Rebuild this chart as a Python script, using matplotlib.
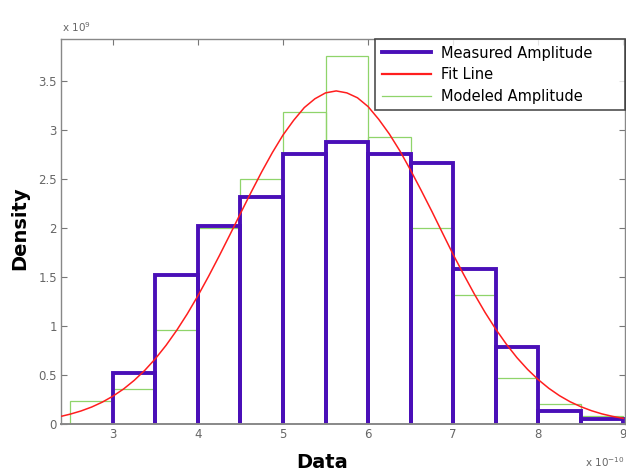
import matplotlib
matplotlib.use("Agg")
import matplotlib.pyplot as plt

# Data (x in units of 1e-10, density in units of 1e9)
bin_edges_measured = [3.0, 3.5, 4.0, 4.5, 5.0, 5.5, 6.0, 6.5, 7.0, 7.5, 8.0, 8.5]
measured = [0.52, 1.52, 2.02, 2.32, 2.76, 2.88, 2.76, 2.66, 1.58, 0.79, 0.13, 0.05]

bin_edges_model = [2.5, 3.0, 3.5, 4.0, 4.5, 5.0, 5.5, 6.0, 6.5, 7.0, 7.5, 8.0, 8.5]
modeled = [0.235, 0.36, 0.96, 2.00, 2.50, 3.18, 3.76, 2.93, 2.00, 1.32, 0.47, 0.20, 0.08]
bin_width = 0.5

fit_x = [2.4, 2.5, 2.625, 2.75, 2.875, 3.0, 3.125, 3.25, 3.375, 3.5, 3.625, 3.75,
         3.875, 4.0, 4.125, 4.25, 4.375, 4.5, 4.625, 4.75, 4.875, 5.0, 5.125,
         5.25, 5.375, 5.5, 5.625, 5.75, 5.875, 6.0, 6.125, 6.25, 6.375, 6.5,
         6.625, 6.75, 6.875, 7.0, 7.125, 7.25, 7.375, 7.5, 7.625, 7.75, 7.875,
         8.0, 8.125, 8.25, 8.375, 8.5, 8.625, 8.75, 8.875, 9.0]
fit_y = [0.080, 0.101, 0.133, 0.173, 0.223, 0.284, 0.357, 0.445, 0.548, 0.667,
         0.803, 0.956, 1.125, 1.31, 1.508, 1.716, 1.931, 2.15, 2.366, 2.575,
         2.771, 2.95, 3.10, 3.23, 3.32, 3.38, 3.40, 3.38, 3.33, 3.24, 3.11,
         2.96, 2.786, 2.59, 2.383, 2.17, 1.949, 1.73, 1.524, 1.325, 1.139,
         0.969, 0.815, 0.677, 0.557, 0.453, 0.364, 0.289, 0.227, 0.177, 0.136,
         0.103, 0.0775, 0.058]

xticks = [3, 4, 5, 6, 7, 8, 9]
yticks = [0, 0.5, 1, 1.5, 2, 2.5, 3, 3.5]
ytick_labels = ["0", "0.5", "1", "1.5", "2", "2.5", "3", "3.5"]

purple = "#4a0fb8"
green = "#8fd46a"
red = "#ff1e1e"

fig = plt.figure(figsize=(6.26, 4.73), dpi=100)
ax = fig.add_axes([61 / 626, (473 - 424) / 473, (625 - 61) / 626, (424 - 39) / 473])


def draw_bars(edges, heights, color, lw, z):
    handle = None
    for left, h in zip(edges, heights):
        right = left + bin_width
        ln, = ax.plot([left, left, right, right], [0, h, h, 0], color=color,
                      linewidth=lw, solid_joinstyle="miter", solid_capstyle="butt",
                      zorder=z)
        handle = ln
    return handle


draw_bars(bin_edges_model, modeled, green, 0.9, 2)
draw_bars(bin_edges_measured, measured, purple, 2.8, 2.2)
ax.plot(fit_x, fit_y, color=red, linewidth=1.1, zorder=4)

# legend proxies
h1, = ax.plot([], [], color=purple, linewidth=2.8)
h2, = ax.plot([], [], color=red, linewidth=1.6)
h3, = ax.plot([], [], color=green, linewidth=0.9)
leg = ax.legend([h1, h2, h3], ["Measured Amplitude", "Fit Line", "Modeled Amplitude"],
                loc="upper left", bbox_to_anchor=(0.557, 0.5, 0.443, 0.5), mode="expand",
                borderaxespad=0, fancybox=False, frameon=True, fontsize=10.5,
                handlelength=3.35, labelspacing=0.45, borderpad=0.45, handletextpad=0.7)
leg.get_frame().set_edgecolor("#222222")
leg.get_frame().set_linewidth(1.2)
leg.set_zorder(10)

ax.set_xlim(2.39, 9.02)
ax.set_ylim(0, 3.93)
ax.set_xticks(xticks)
ax.set_xticklabels([str(t) for t in xticks])
ax.set_yticks(yticks)
ax.set_yticklabels(ytick_labels)
ax.tick_params(direction="in", top=True, right=True, length=4, width=0.8,
               colors="#777777", labelsize=8.5, labelcolor="#666666", pad=3)
for s in ax.spines.values():
    s.set_color("#888888")
    s.set_linewidth(1.0)
    s.set_zorder(3)
ax.spines["bottom"].set_linewidth(1.4)

fig.text(20 / 626, 1 - 228 / 473, "Density", rotation=90, ha="center", va="center",
         fontsize=14, fontweight="bold")
fig.text(322 / 626, 1 - 462 / 473, "Data", ha="center", va="center",
         fontsize=14, fontweight="bold")
fig.text(62 / 626, 1 - 27 / 473, r"x $10^{9}$", ha="left", va="center",
         fontsize=7.5, color="#666666")
fig.text(585 / 626, 1 - 462 / 473, r"x $10^{-10}$", ha="left", va="center",
         fontsize=7.5, color="#666666")

fig.savefig("out.png", dpi=100, facecolor="white")
